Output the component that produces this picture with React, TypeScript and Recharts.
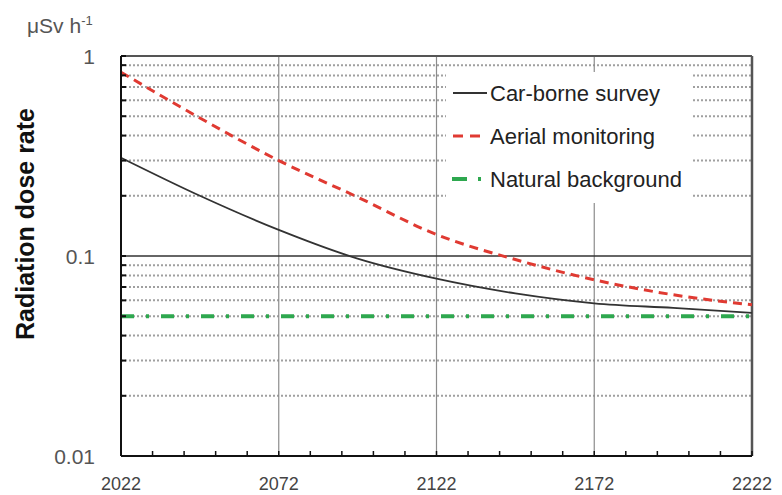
import React from 'react';
import { LineChart, Line, XAxis, YAxis, ReferenceLine, Legend } from 'recharts';

const years = [2022, 2047, 2072, 2097, 2122, 2147, 2172, 2197, 2222];
const carBorne = [0.31, 0.2, 0.135, 0.097, 0.077, 0.065, 0.058, 0.055, 0.052];
const aerial = [0.83, 0.49, 0.3, 0.197, 0.128, 0.096, 0.076, 0.064, 0.057];
const natural = [0.05, 0.05, 0.05, 0.05, 0.05, 0.05, 0.05, 0.05, 0.05];

const xMajorTicks = [2022, 2072, 2122, 2172, 2222];
const xAllTicks = [
  2022, 2032, 2042, 2052, 2062, 2072, 2082, 2092, 2102, 2112, 2122,
  2132, 2142, 2152, 2162, 2172, 2182, 2192, 2202, 2212, 2222,
];
const xGridLines = [2072, 2122, 2172];
const yLabelTicks = [0.01, 0.1, 1];
const yMinorTicks = [
  0.02, 0.03, 0.04, 0.05, 0.06, 0.07, 0.08, 0.09,
  0.2, 0.3, 0.4, 0.5, 0.6, 0.7, 0.8, 0.9,
];
const yAllTicks = [0.01, ...yMinorTicks.slice(0, 8), 0.1, ...yMinorTicks.slice(8), 1];

const seriesNames = ['Car-borne survey', 'Aerial monitoring', 'Natural background'];

const data = years.map((year, i) => ({
  year,
  car: carBorne[i],
  aerial: aerial[i],
  natural: natural[i],
}));

const FONT = '"Liberation Sans", Arial, sans-serif';

const XTick = (props: any) => {
  const { x, y, payload } = props;
  const v = payload.value;
  const isMajor = xMajorTicks.includes(v);
  return (
    <g>
      <line x1={x} x2={x} y1={y} y2={y - 5} stroke="#111" strokeWidth={1.5} />
      {isMajor && (
        <text x={x} y={y + 34} textAnchor="middle" fontFamily={FONT} fontSize={18} fill="#444">
          {v}
        </text>
      )}
    </g>
  );
};

const YTick = (props: any) => {
  const { x, y, payload } = props;
  const v = payload.value;
  const isLabel = yLabelTicks.includes(v);
  return (
    <g>
      <line x1={x} x2={x + 5} y1={y} y2={y} stroke="#111" strokeWidth={2} />
      {isLabel && (
        <text x={x - 26} y={y + 8} textAnchor="end" fontFamily={FONT} fontSize={21} fill="#555">
          {v}
        </text>
      )}
    </g>
  );
};

const AxisTitle = () => (
  <g>
    <text
      x={34}
      y={224}
      transform="rotate(-90 34 224)"
      textAnchor="middle"
      fontFamily={FONT}
      fontWeight="bold"
      fontSize={25}
      fill="#111"
    >
      Radiation dose rate
    </text>
    <text x={27} y={33} fontFamily={FONT} fontSize={21} fill="#555">
      μSv h
      <tspan dy={-8} fontSize={13}>-1</tspan>
    </text>
  </g>
);

const LegendContent = () => (
  <svg width={245} height={131} style={{ display: 'block' }}>
    <rect x={0} y={0} width={245} height={131} fill="#fff" />
    <line x1={7} x2={41} y1={21} y2={21} stroke="#333" strokeWidth={1.8} />
    <text x={44} y={29} fontFamily={FONT} fontSize={22} fill="#222">{seriesNames[0]}</text>
    <line x1={7} x2={34} y1={64} y2={64} stroke="#e03a32" strokeWidth={3} strokeDasharray="10 7" />
    <text x={44} y={72} fontFamily={FONT} fontSize={22} fill="#222">{seriesNames[1]}</text>
    <line x1={6} x2={36} y1={107} y2={107} stroke="#2ea84f" strokeWidth={4} strokeDasharray="15 11 3 20" />
    <text x={44} y={115} fontFamily={FONT} fontSize={22} fill="#222">{seriesNames[2]}</text>
  </svg>
);

export default function App() {
  return (
    <div style={{ position: 'absolute', left: 0, top: 0, background: '#fff' }}>
      <LineChart
        width={782}
        height={495}
        data={data}
        margin={{ top: 56, right: 30, bottom: 0, left: 0 }}
      >
        {yMinorTicks.map((v) => (
          <ReferenceLine
            key={'gy' + v}
            y={v}
            stroke="#a0a0a0"
            strokeWidth={2}
            strokeDasharray="2 2"
          />
        ))}
        {xGridLines.map((v) => (
          <ReferenceLine key={'gx' + v} x={v} stroke="#8c8c8c" strokeWidth={1.2} />
        ))}
        <ReferenceLine y={0.1} stroke="#333" strokeWidth={1.5} />
        <ReferenceLine y={1} stroke="#555" strokeWidth={2} />
        <ReferenceLine x={2222} stroke="#555" strokeWidth={2.5} />
        <XAxis
          dataKey="year"
          type="number"
          domain={[2022, 2222]}
          ticks={xAllTicks}
          interval={0}
          height={39}
          tickSize={0}
          tickMargin={0}
          tickLine={false}
          tick={<XTick />}
          axisLine={{ stroke: '#111', strokeWidth: 2 }}
        />
        <YAxis
          type="number"
          scale="log"
          domain={[0.01, 1]}
          allowDataOverflow
          ticks={yAllTicks}
          interval={0}
          width={121}
          tickSize={0}
          tickMargin={0}
          tickLine={false}
          tick={<YTick />}
          axisLine={{ stroke: '#111', strokeWidth: 2 }}
          label={<AxisTitle />}
        />
        <Line
          type="monotone"
          dataKey="natural"
          name={seriesNames[2]}
          stroke="#2ea84f"
          strokeWidth={4}
          strokeDasharray="13 12 3 12"
          dot={false}
          activeDot={false}
          isAnimationActive={false}
        />
        <Line
          type="monotone"
          dataKey="car"
          name={seriesNames[0]}
          stroke="#333"
          strokeWidth={1.8}
          dot={false}
          activeDot={false}
          isAnimationActive={false}
        />
        <Line
          type="monotone"
          dataKey="aerial"
          name={seriesNames[1]}
          stroke="#e03a32"
          strokeWidth={3}
          strokeDasharray="9 6"
          dot={false}
          activeDot={false}
          isAnimationActive={false}
        />
        <Legend
          layout="vertical"
          align="center"
          verticalAlign="middle"
          content={<LegendContent />}
          wrapperStyle={{ position: 'absolute', left: 446, top: 72, width: 245, height: 131, margin: 0, padding: 0 }}
        />
      </LineChart>
    </div>
  );
}
